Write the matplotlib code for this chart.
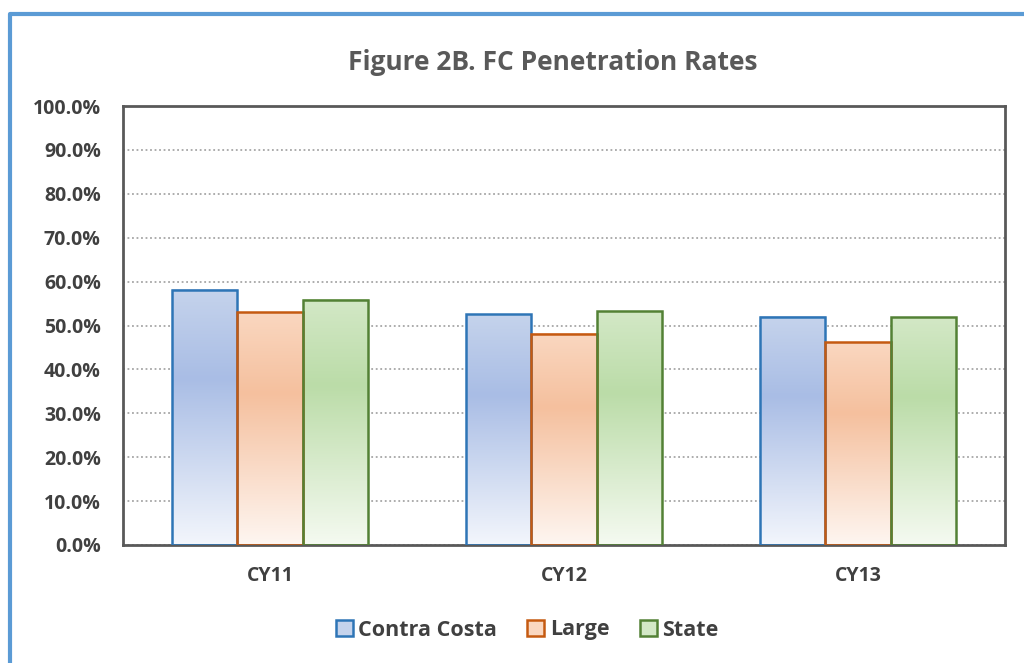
import numpy as np
import matplotlib.pyplot as plt
from matplotlib.patches import Patch
from matplotlib.lines import Line2D
from matplotlib.colors import LinearSegmentedColormap

plt.rcParams['font.family'] = ['Open Sans', 'DejaVu Sans']

years = ['CY11', 'CY12', 'CY13']
series = ['Contra Costa', 'Large', 'State']
contra_costa = [58.2, 52.6, 52.0]
large = [53.0, 48.1, 46.2]
state = [55.9, 53.3, 51.9]

edge_colors = ['#2E75B6', '#C55A11', '#538135']
# gradient stops: top, middle, bottom
grad_colors = [
    ['#C5D3EC', '#A9BDE5', '#F3F6FC'],
    ['#FAD7C0', '#F5C09E', '#FEF6F1'],
    ['#D3E8C6', '#BBDCA8', '#F5FAF1'],
]

fig = plt.figure(figsize=(10.24, 6.63), dpi=100)
ax = fig.add_axes([123 / 1024, 118 / 663, 882 / 1024, 439 / 663])

x = np.arange(len(years))
w = 0.222
values = [contra_costa, large, state]
for i, (vals, ec, gc) in enumerate(zip(values, edge_colors, grad_colors)):
    cmap = LinearSegmentedColormap.from_list('g%d' % i, [(0, gc[0]), (0.35, gc[1]), (1, gc[2])])
    grad = np.linspace(0, 1, 256).reshape(-1, 1)
    pos = x + (i - 1) * w
    for p, v in zip(pos, vals):
        ax.imshow(grad, cmap=cmap, aspect='auto', extent=(p - w / 2, p + w / 2, 0, v),
                  origin='upper', zorder=2, interpolation='bilinear')
    ax.bar(pos, vals, width=w, facecolor='none', edgecolor=ec, linewidth=1.8, zorder=3)

ax.set_xlim(-0.5, 2.5)
ax.set_ylim(0, 100)
ax.set_yticks(np.arange(0, 101, 10))
ax.set_yticklabels(['%.1f%%' % v for v in np.arange(0, 101, 10)])
ax.set_xticks(x)
ax.set_xticklabels(years)
ax.tick_params(axis='y', length=0, pad=16, labelsize=14, labelcolor='#404040')
ax.tick_params(axis='x', length=0, pad=15, labelsize=14, labelcolor='#404040')
for lab in ax.get_xticklabels() + ax.get_yticklabels():
    lab.set_fontweight('bold')
ax.grid(axis='y', color='#A6A6A6', linestyle=(0, (1, 1.5)), linewidth=1.3, zorder=1)
ax.set_axisbelow(True)
for s in ax.spines.values():
    s.set_color('#595959')
    s.set_linewidth(2)

fig.text(553 / 1024, 1 - 62 / 663, 'Figure 2B. FC Penetration Rates', ha='center', va='center',
         fontsize=19, fontweight='bold', color='#595959')

handles = [Patch(facecolor=gc[0], edgecolor=ec, linewidth=1.8) for ec, gc in zip(edge_colors, grad_colors)]
leg = fig.legend(handles, series, loc='center', bbox_to_anchor=(527 / 1024, 1 - 630 / 663), ncol=3,
                 frameon=False, handlelength=0.8, handleheight=0.8, handletextpad=0.25, columnspacing=1.4,
                 prop={'size': 15.5, 'weight': 'bold'})
for t in leg.get_texts():
    t.set_color('#404040')

# outer chart frame (left and top edges visible)
fx = 10 / 1024
fy = 1 - 14 / 663
fig.add_artist(Line2D([fx, fx, 1.0], [0, fy, fy], transform=fig.transFigure, color='#5B9BD5', linewidth=3))

fig.savefig('out.png', dpi=100)
